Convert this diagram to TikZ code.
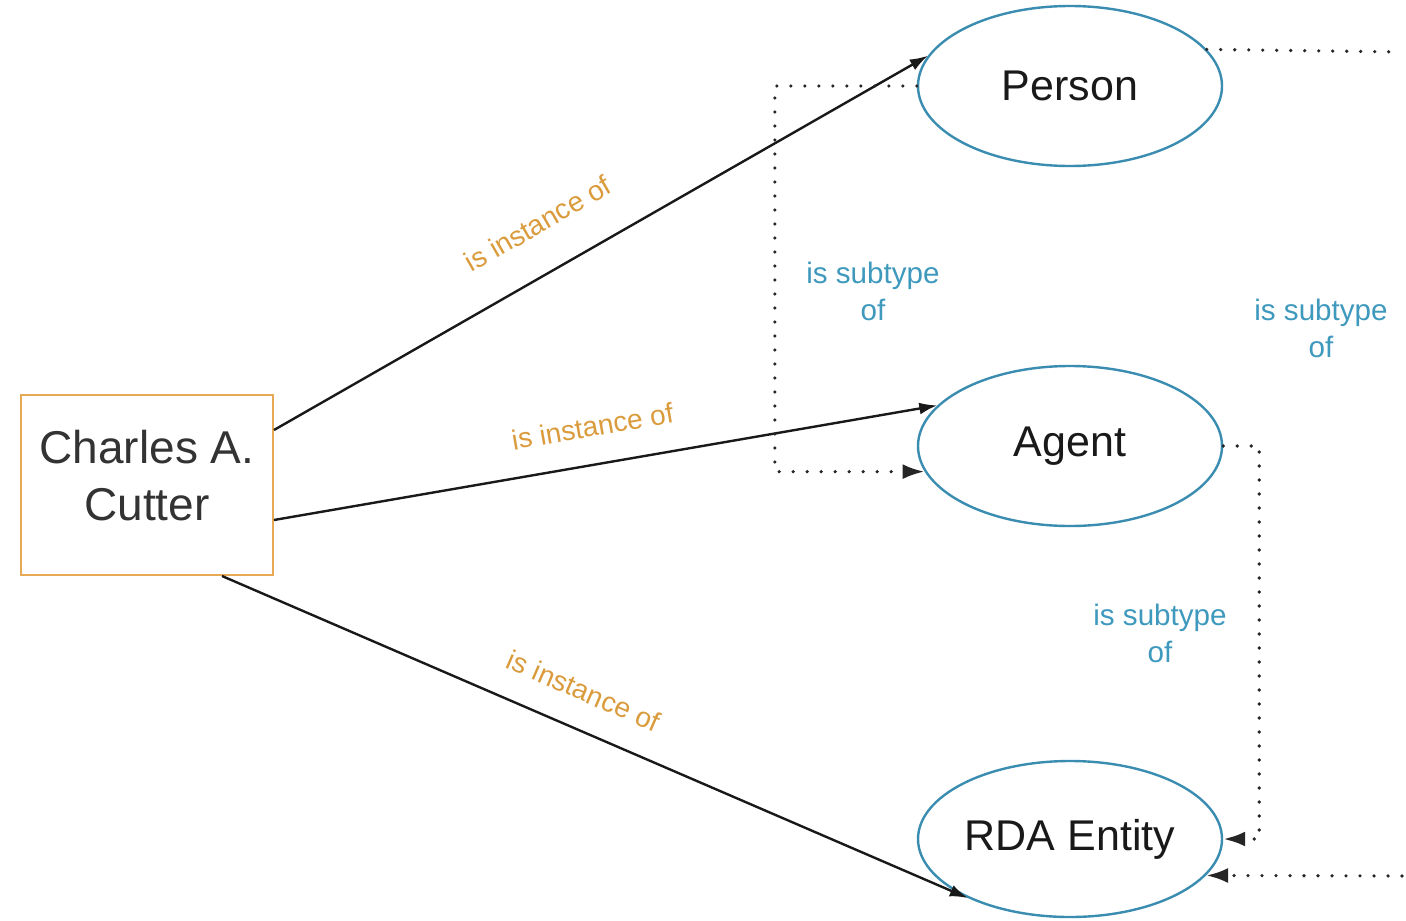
\documentclass[tikz,border=0pt]{standalone}
\usepackage{fontspec}
\setmainfont{Liberation Sans}
\usetikzlibrary{arrows.meta,positioning,calc,shapes.geometric}
\definecolor{ochre}{HTML}{DA9B3C}
\definecolor{boxline}{HTML}{E6A955}
\definecolor{subteal}{HTML}{3E99BD}
\definecolor{ringline}{HTML}{3A8DB0}
\definecolor{ink}{HTML}{333333}

\begin{document}
\begin{tikzpicture}[x=0.5pt,y=-0.5pt,
  cls/.style={ellipse,draw=ringline,line width=1.2pt,inner sep=0pt,
    minimum width=152pt,minimum height=80pt,text=black!90,
    font=\fontsize{21.5}{26}\selectfont},
  inst/.style={-{Latex[length=9pt,width=6pt]},line width=1.2pt,black!90},
  subline/.style={line width=1.8pt,line cap=round,black!85,
    dash pattern=on 0pt off 7pt},
  subarrow/.style={subline,-{Latex[length=11pt,width=7.5pt]}},
  lab/.style={text=ochre,sloped,font=\fontsize{14}{17}\selectfont},
  subl/.style={text=subteal,align=center,font=\fontsize{14.8}{18.5}\selectfont}]
  \useasboundingbox (0,0) rectangle (1406,920);
  % classes
  \node[cls] (person) at (1070,86) {Person};
  \node[cls] (agent) at (1070,446) {Agent};
  \node[cls,minimum height=78pt] (rda) at (1070,839) {RDA Entity};
  % the instance
  \node[draw=boxline,line width=1pt,minimum width=126pt,minimum height=90pt]
    (cutter) at (147,485) {};
  \node[align=center,text=ink,font=\fontsize{23}{28.5}\selectfont]
    (cuttertext) at ([yshift=4.5pt]cutter.center) {Charles A.\\Cutter};
  % is instance of
  \draw[inst] ([yshift=27.5pt]cutter.east) -- (person.168)
    node[lab,pos=.44,above=15pt] (l1) {is instance of};
  \draw[inst] ([yshift=-17.5pt]cutter.east) -- (agent.163)
    node[lab,pos=.49,above=10pt] (l2) {is instance of};
  \draw[inst] ([xshift=37.5pt]cutter.south) -- (rda.210)
    node[lab,pos=.465,above=10pt] (l3) {is instance of};
  % is subtype of
  \draw[subarrow] (person.west) -- ++(-142,0) |- (agent.190);
  \draw[subarrow] (agent.east) -- ++(36,0) |- (rda.east);
  \coordinate (outtop) at (1402,52);
  \coordinate (outbot) at (1402,876);
  \draw[subline] (person.15) -- (outtop);
  \draw[subarrow] (outbot) -- (rda.-15);
  \node[subl] (s1) at (873,291) {is subtype\\of};
  \node[subl] (s2) at (1321,328) {is subtype\\of};
  \node[subl] (s3) at (1160,633) {is subtype\\of};
\end{tikzpicture}
\end{document}
